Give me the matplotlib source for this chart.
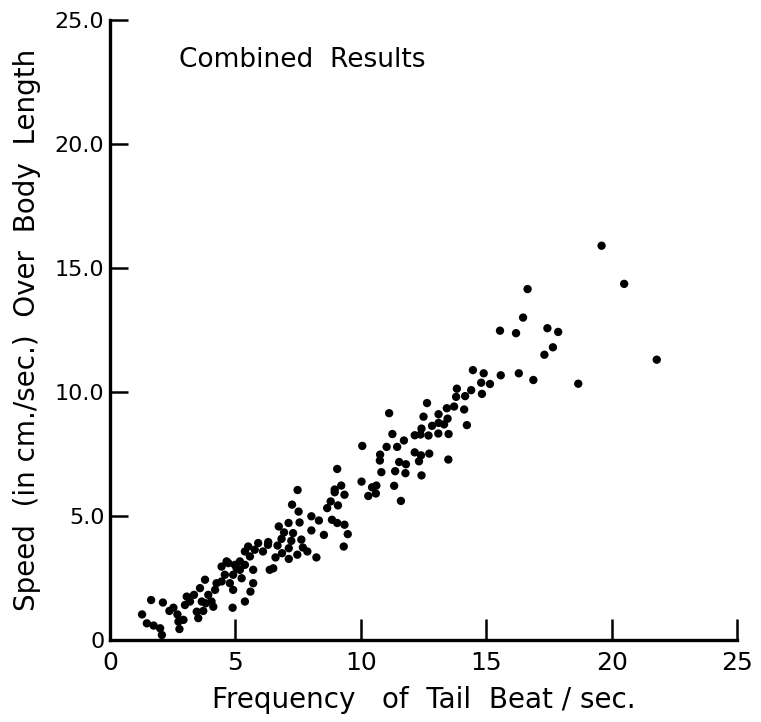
import matplotlib
matplotlib.use("Agg")
import matplotlib.pyplot as plt

# Frequency of tail beat (beats/sec)
freq = [
    19.6, 20.5, 21.8, 16.65, 16.47, 15.55, 16.19, 17.44, 17.87, 17.66, 17.32, 18.67,
    14.9, 14.8, 15.15, 15.58, 16.3, 16.88, 14.83, 14.47, 13.83, 14.4, 13.8, 14.16,
    12.64, 13.43, 13.72, 14.12, 12.5, 13.1, 13.46, 14.23,
    11.13, 12.84, 13.1, 13.32, 12.42, 12.15, 12.38, 12.7, 13.09, 13.5, 11.26, 11.72,
    11.03, 11.45, 10.06, 12.15, 12.4, 12.73, 12.32, 10.77, 10.76, 11.53, 11.8, 13.49,
    10.82, 11.37, 11.78, 12.42, 9.06, 10.03, 10.45, 10.62, 11.33, 9.22, 8.96,
    7.48, 7.26, 7.52, 8.96, 9.35, 8.8, 8.66, 9.09, 8.03, 8.33, 8.85, 9.06, 9.35,
    8.03, 8.53, 9.48, 6.73, 7.12, 7.56, 6.94, 7.3, 6.84, 7.23, 7.63, 6.68, 7.13,
    7.69, 7.87, 6.86, 7.47, 6.6, 7.13, 8.23, 9.32, 6.31, 5.51, 5.77, 6.1, 5.38,
    5.58, 6.51, 4.65, 4.98, 5.38, 4.45, 5.18,
    1.64, 2.11, 1.28, 1.47, 1.74, 2.0, 2.07, 2.37, 2.53, 2.69, 2.73, 2.77, 2.93,
    2.99, 3.19, 3.06, 3.35, 3.46, 3.52, 3.72, 3.82, 3.59, 3.79, 3.66, 3.92, 4.05,
    4.19, 4.25, 4.12, 4.45, 4.58, 4.72, 4.91, 4.78, 5.05, 5.25, 4.91, 4.89, 5.38,
    5.6, 5.71, 5.71, 6.3, 5.91, 6.37, 5.18,
    11.6, 10.3, 10.6,
]

# Speed over body length
speed = [
    15.9, 14.36, 11.3, 14.15, 13.0, 12.47, 12.37, 12.57, 12.42, 11.8, 11.5, 10.33,
    10.75, 10.37, 10.32, 10.67, 10.75, 10.48, 9.92, 10.88, 10.13, 10.07, 9.8, 9.83,
    9.55, 9.34, 9.41, 9.29, 9.0, 9.1, 8.92, 8.66,
    9.14, 8.63, 8.75, 8.69, 8.52, 8.25, 8.28, 8.24, 8.32, 8.3, 8.3, 8.04,
    7.78, 7.78, 7.82, 7.56, 7.44, 7.51, 7.2, 7.47, 7.23, 7.17, 7.08, 7.27,
    6.76, 6.8, 6.72, 6.63, 6.89, 6.38, 6.15, 6.22, 6.21, 6.22, 6.06,
    6.04, 5.45, 5.17, 5.95, 5.85, 5.58, 5.31, 5.42, 4.98, 4.81, 4.84, 4.71, 4.64,
    4.41, 4.23, 4.26, 4.57, 4.71, 4.73, 4.33, 4.3, 4.07, 3.99, 4.04, 3.8, 3.69,
    3.72, 3.56, 3.49, 3.43, 3.32, 3.26, 3.32, 3.76, 3.94, 3.76, 3.63, 3.56, 3.56,
    3.36, 2.88, 3.16, 3.02, 3.02, 2.95, 2.82,
    1.6, 1.5, 1.02, 0.66, 0.57, 0.46, 0.19, 1.16, 1.29, 1.02, 0.73, 0.43, 0.8,
    1.4, 1.54, 1.74, 1.81, 1.13, 0.87, 1.16, 1.47, 2.08, 2.42, 1.54, 1.81, 1.54,
    2.01, 2.28, 1.33, 2.35, 2.62, 3.09, 2.62, 2.28, 2.88, 2.48, 2.01, 1.29, 1.54,
    1.94, 2.28, 2.82, 3.83, 3.9, 2.82, 3.16,
    5.6, 5.8, 5.9,
]

xticks = [0, 5, 10, 15, 20, 25]
xtick_labels = ["0", "5", "10", "15", "20", "25"]
yticks = [0, 5, 10, 15, 20, 25]
ytick_labels = ["0", "5.0", "10.0", "15.0", "20.0", "25.0"]

fig = plt.figure(figsize=(7.61, 7.22), dpi=100)
ax = fig.add_axes([0.1445, 0.114, 0.824, 0.858])

ax.scatter(freq, speed, s=36, color="black", edgecolors="none", zorder=3)

ax.set_xlim(0, 25)
ax.set_ylim(0, 25)
ax.set_xticks(xticks)
ax.set_xticklabels(xtick_labels)
ax.set_yticks(yticks)
ax.set_yticklabels(ytick_labels)

for side in ["top", "right"]:
    ax.spines[side].set_visible(False)
for side in ["left", "bottom"]:
    ax.spines[side].set_linewidth(2.4)

ax.tick_params(axis="x", direction="in", length=15, width=1.8, labelsize=18, pad=8)
ax.tick_params(axis="y", direction="in", length=13, width=1.8, labelsize=16, pad=4)

ax.set_xlabel("Frequency   of  Tail  Beat / sec.", fontsize=20, labelpad=8)
ax.set_ylabel("Speed  (in cm./sec.)  Over  Body  Length", fontsize=20, labelpad=10)

ax.text(2.75, 23.4, "Combined  Results", fontsize=19, va="center", ha="left")

fig.savefig("out.png", dpi=100)
